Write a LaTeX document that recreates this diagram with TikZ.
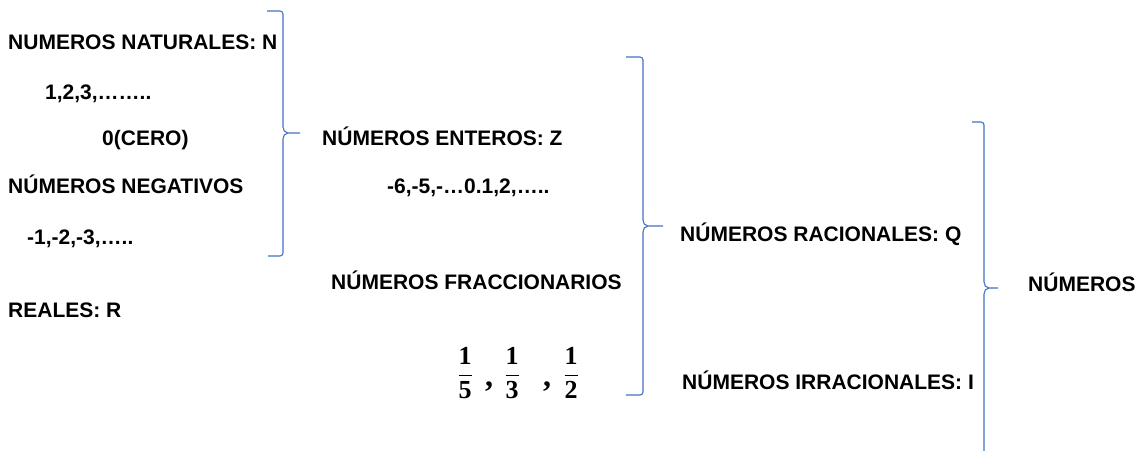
\documentclass[tikz,border=0pt]{standalone}
\usepackage{amsmath}
\usepackage[no-math]{fontspec}
\setmainfont{Liberation Sans}
\newfontfamily\serfont{Liberation Serif}
\usepackage{tikz}
\definecolor{braceblue}{RGB}{68,114,196}

\begin{document}
\begin{tikzpicture}[x=1pt,y=-1pt,
		txt_style/.style={anchor=base west,inner sep=0pt,font=\fontsize{21}{25}\selectfont\bfseries},
		frac_style/.style={inner sep=0pt,font=\fontsize{26}{30}\selectfont},
		comma_style/.style={inner sep=0pt,font=\fontsize{32}{34}\selectfont\serfont\bfseries},
		brace_style/.style={draw=braceblue,line width=1.1pt}]
		
		\clip (0,0) rectangle (1137,450);
		
		\node[txt_style] (nat) at (8,49.5) {NUMEROS NATURALES: N};
		\node[txt_style] (natv) at (45,99.5) {1,2,3,……..};
		\node[txt_style] (cero) at (102,145) {0(CERO)};
		\node[txt_style] (neg) at (8,193) {NÚMEROS NEGATIVOS};
		\node[txt_style] (negv) at (27,244) {-1,-2,-3,…..};
		\node[txt_style] (real) at (8,317) {REALES: R};
		
		\node[txt_style] (ent) at (322,145) {NÚMEROS ENTEROS: Z};
		\node[txt_style] (entv) at (387,193) {-6,-5,-…0.1,2,…..};
		\node[txt_style] (frac) at (331,289) {NÚMEROS FRACCIONARIOS};
		
		\node[frac_style] (f1) at (465,373) {$\dfrac{\text{\serfont\bfseries 1}}{\text{\serfont\bfseries 5}}$};
		\node[comma_style] (c1) at (489,387) {,};
		\node[frac_style] (f2) at (512,373) {$\dfrac{\text{\serfont\bfseries 1}}{\text{\serfont\bfseries 3}}$};
		\node[comma_style] (c2) at (547,387) {,};
		\node[frac_style] (f3) at (571,373) {$\dfrac{\text{\serfont\bfseries 1}}{\text{\serfont\bfseries 2}}$};
		
		\node[txt_style] (rac) at (680,241.5) {NÚMEROS RACIONALES: Q};
		\node[txt_style] (irr) at (682,389) {NÚMEROS IRRACIONALES: I};
		\node[txt_style] (num) at (1028,291) {NÚMEROS};
		
		% braces
		\draw[brace_style] (267,11) -- (280,11) to[out=0,in=90] (283,14) -- (283,127)
			to[out=-90,in=180] (288,133) -- (300,133) -- (288,133) to[out=180,in=90] (283,139)
			-- (283,253) to[out=-90,in=0] (280,256) -- (268,256);
		\draw[brace_style] (626,57) -- (640,57) to[out=0,in=90] (643,60) -- (643,220)
			to[out=-90,in=180] (648,226) -- (663,226) -- (648,226) to[out=180,in=90] (643,232)
			-- (643,392) to[out=-90,in=0] (640,395) -- (626,395);
		\draw[brace_style] (972,122) -- (981,122) to[out=0,in=90] (984,125) -- (984,282)
			to[out=-90,in=180] (989,288) -- (998,288) -- (989,288) to[out=180,in=90] (984,294)
			-- (984,460);
		
		\end{tikzpicture}
\end{document}
